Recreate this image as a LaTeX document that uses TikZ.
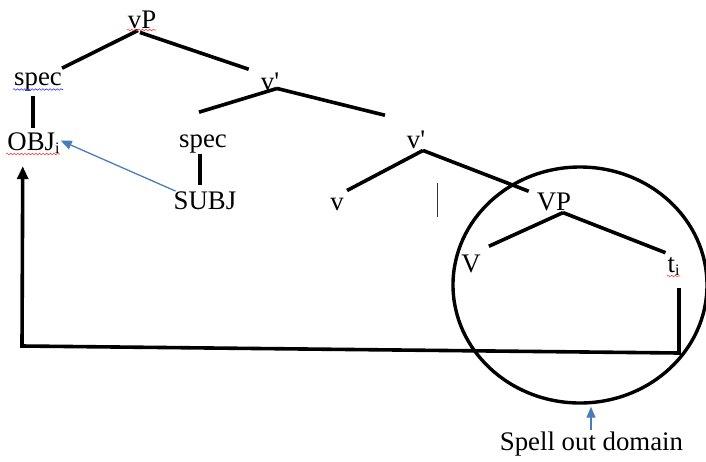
\documentclass[tikz,border=0pt]{standalone}
\usepackage{fontspec}
\setmainfont{Liberation Serif}
\usetikzlibrary{arrows.meta,calc,decorations.pathmorphing,shapes.geometric}
\newcommand{\subi}{\raisebox{-3pt}{\fontsize{16}{16}\selectfont i}}
\newcommand{\prm}{\textquotesingle}
\begin{document}
\begin{tikzpicture}[x=1pt,y=-1pt,
  lbl/.style={font=\fontsize{26.8}{30}\selectfont, inner sep=0pt, anchor=base},
  tree/.style={line width=3.6pt},
  bigpath/.style={line width=3.6pt, line join=miter, -{Triangle[width=11pt,length=13pt]}},
  bluearrow/.style={draw={rgb,255:red,74;green,126;blue,187}, line width=1.3pt, -{Triangle[width=9pt,length=11pt]}},
  squig/.style={decorate, decoration={snake, amplitude=0.8pt, segment length=3.6pt}, line width=0.6pt},
]
\useasboundingbox (0,0) rectangle (706,461);
\fill[white] (0,0) rectangle (706,461);
% nodes
\node[lbl] (vP) at (142,28) {vP};
\node[lbl] (specL) at (38,85) {spec};
\node[lbl] (v1) at (270,90) {v\prm};
\node[lbl] (OBJ) at (33.5,150) {OBJ\subi};
\node[lbl] (specM) at (203,147) {spec};
\node[lbl] (SUBJ) at (205,209) {SUBJ};
\node[lbl] (v2) at (416,148) {v\prm};
\node[lbl] (v) at (337,210) {v};
\node[lbl] (VP) at (554,210) {VP};
\node[lbl] (V) at (471,272) {V};
\node[lbl] (ti) at (673.5,272) {t\subi};
\node[lbl] (spell) at (591.5,450) {Spell out domain};
% tree edges
\draw[tree] ($(vP.south)+(-4,2)$) -- ($(specL.north east)+(0,-4)$);
\draw[tree] ($(vP.south)+(-2,4)$) -- ($(v1.north west)+(-12,-3)$);
\draw[tree] ($(v1.south)+(7,-2)$) -- ($(specM.north)+(-4,-22)$);
\draw[tree] ($(v1.south)+(7,-2)$) -- ($(v2.north)+(-31,-15)$);
\draw[tree] ($(specL.south)+(-5,5)$) -- ($(OBJ.north)+(-0.5,-4)$);
\draw[tree] ($(specM.south)+(-3,1)$) -- ($(SUBJ.north)+(-5,-6)$);
\draw[tree] ($(v2.south)+(7,2)$) -- ($(v.north)+(10,-7)$);
\draw[tree] ($(v2.south)+(7,2)$) -- ($(VP.north west)+(-8,-1)$);
\draw[tree] ($(VP.south)+(9,2)$) -- ($(V.north east)+(8,-8)$);
\draw[tree] ($(VP.south)+(9,2)$) -- ($(ti.north)+(-8,-4)$);
% stray bar
\coordinate (bar1) at (437,183);
\coordinate (bar2) at (437,217);
\draw[line width=0.9pt, black!80] (bar1) -- (bar2);
% movement path
\coordinate (c1) at (679,353);
\coordinate (c2) at (22,346);
\draw[bigpath] ($(ti.south)+(5.5,13)$) -- (c1) -- (c2) -- ($(OBJ.south west)+(15.5,13)$);
% blue arrow SUBJ -> OBJ
\draw[bluearrow] ($(SUBJ.north west)+(2,0)$) -- ($(OBJ.east)+(1,-2)$);
% spell-out circle
\node[draw, ellipse, line width=3.4pt, minimum width=254pt, minimum height=236pt, inner sep=0pt, anchor=center] (dom) at (580,285) {};
\draw[bluearrow] ($(spell.north)+(-0.5,-1)$) -- ($(dom.south)+(11,2)$);
% spellcheck squiggles
\draw[squig, red!75] (127,30) -- (156,30);
\draw[squig, blue!80] (13,89.5) -- (63,89.5);
\draw[squig, red!75] (6,154) -- (60,154);
\draw[squig, red!75] (667,276) -- (680,276);
\end{tikzpicture}
\end{document}
